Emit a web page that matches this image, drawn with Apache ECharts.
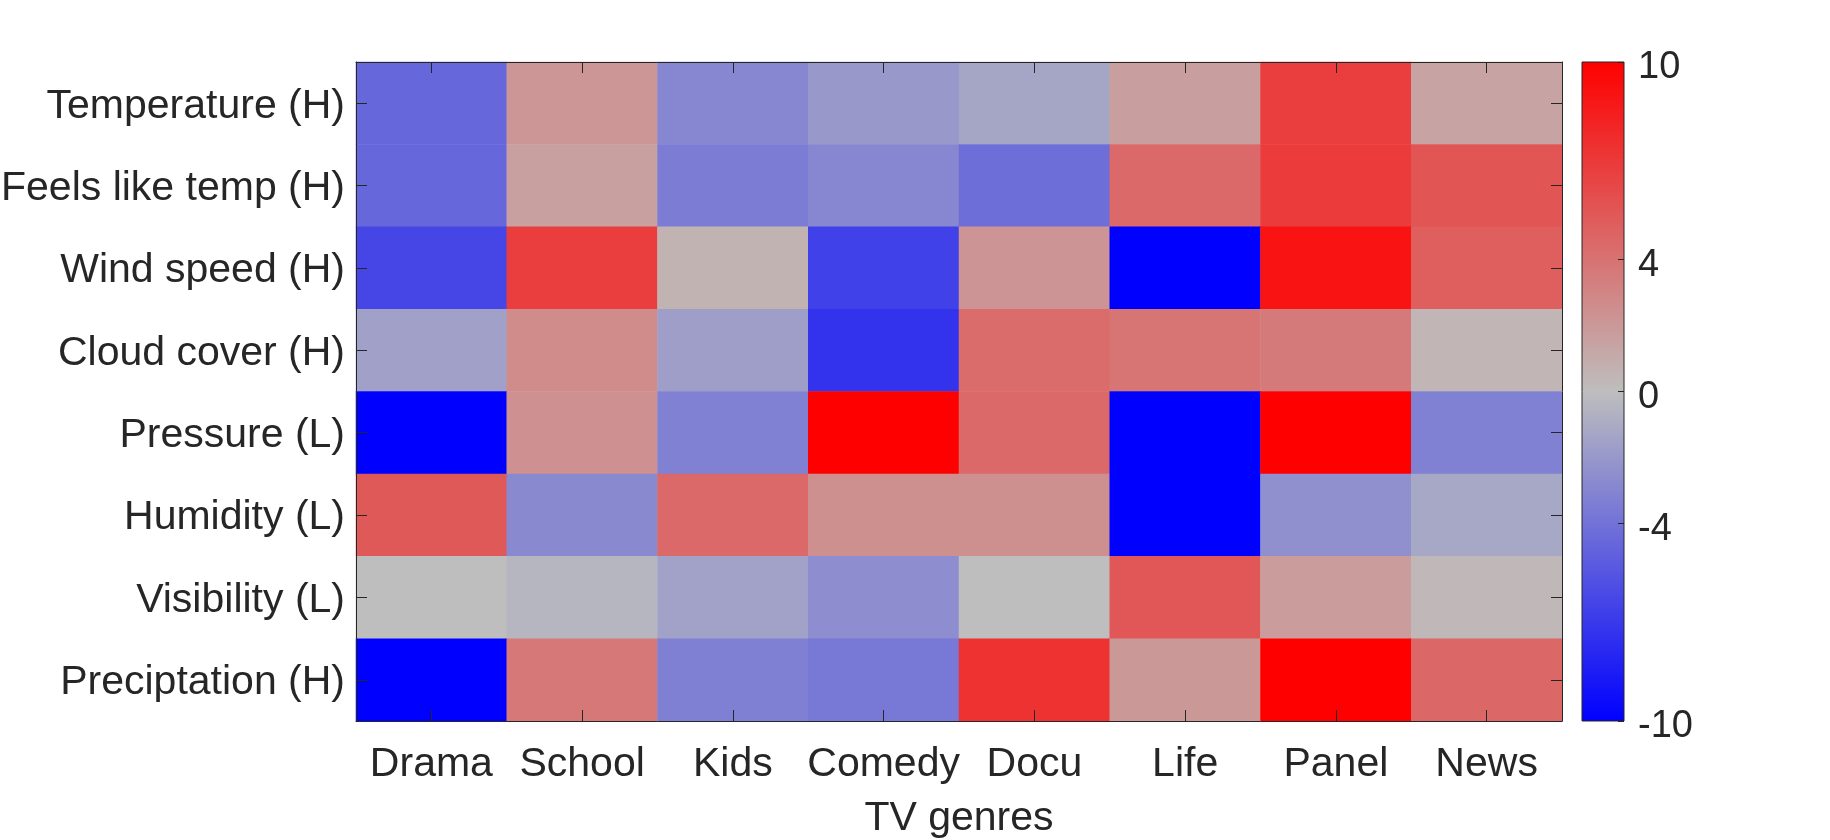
<!DOCTYPE html>
<html>
<head>
<meta charset="utf-8">
<title>TV genres heatmap</title>
<script src="https://cdn.jsdelivr.net/npm/echarts@6/dist/echarts.min.js"></script>
<style>
  html, body { margin: 0; padding: 0; background: #fff; }
  #chart1 { width: 1830px; height: 840px; }
</style>
</head>
<body>
<div id="chart1"></div>
<script>
// categories
var genres = ['Drama', 'School', 'Kids', 'Comedy', 'Docu', 'Life', 'Panel', 'News'];
var variables = ['Temperature (H)', 'Feels like temp (H)', 'Wind speed (H)', 'Cloud cover (H)',
                 'Pressure (L)', 'Humidity (L)', 'Visibility (L)', 'Preciptation (H)'];

// one row of values per variable, in genre order
var temperature = [-4.6, 2.1, -2.9, -2.0, -1.3, 1.7, 6.8, 1.4];
var feelsLike   = [-4.6, 1.6, -3.5, -2.9, -4.2, 4.5, 6.9, 5.5];
var windSpeed   = [-6.3, 6.8, 0.6, -6.6, 2.2, -10, 9.0, 5.0];
var cloudCover  = [-1.6, 2.7, -1.7, -7.3, 4.3, 3.9, 3.6, 0.5];
var pressure    = [-10, 2.4, -3.2, 10, 4.5, -10, 10, -3.2];
var humidity    = [5.3, -2.8, 4.5, 2.5, 2.5, -10, -2.4, -1.2];
var visibility  = [0, -0.4, -1.5, -2.6, 0, 5.4, 1.8, 0.3];
var precip      = [-10, 3.7, -3.3, -3.7, 7.4, 2.0, 10, 4.6];

var rows = [temperature, feelsLike, windSpeed, cloudCover, pressure, humidity, visibility, precip];

// colorbar ticks
var cbTicks = [-10, -4, 0, 4, 10];
var cbMin = -10, cbMax = 10;
var cmap = ['#0000ff', '#bebebe', '#ff0000'];

var heatData = [];
rows.forEach(function (row, yi) {
    row.forEach(function (v, xi) {
        heatData.push([xi, yi, v]);
    });
});

var txt = '#262626';
var font = 'Liberation Sans, Arial, Helvetica, sans-serif';

// inside ticks, mirrored box like the original figure
function catTicks() {
    return { show: true, inside: true, alignWithLabel: true, interval: 0, length: 11, lineStyle: { color: txt, width: 1 } };
}

var myChart1 = echarts.init(document.getElementById('chart1'));
myChart1.setOption({
    animation: false,
    textStyle: { fontFamily: font, color: txt },
    grid: [
        { left: 356, right: 268, top: 62, bottom: 119, outerBoundsMode: 'none', containLabel: false },
        { left: 1582, width: 42, top: 62, bottom: 119, outerBoundsMode: 'none', containLabel: false }
    ],
    xAxis: [
        {
            type: 'category', gridIndex: 0, data: genres, position: 'bottom', z: 5,
            name: 'TV genres', nameLocation: 'middle', nameGap: 77,
            nameTextStyle: { fontSize: 41, color: txt, fontFamily: font },
            axisLine: { lineStyle: { color: txt, width: 1 } },
            axisTick: catTicks(),
            axisLabel: { fontSize: 41, color: txt, margin: 23, interval: 0, fontFamily: font },
            splitLine: { show: false }
        },
        {
            type: 'category', gridIndex: 0, data: genres, position: 'top', z: 5,
            axisLine: { lineStyle: { color: txt, width: 1 } },
            axisTick: catTicks(),
            axisLabel: { show: false },
            splitLine: { show: false }
        },
        { type: 'value', gridIndex: 1, show: false, min: 0, max: 1 }
    ],
    yAxis: [
        {
            type: 'category', gridIndex: 0, data: variables, inverse: true, position: 'left', z: 5,
            axisLine: { lineStyle: { color: txt, width: 1 } },
            axisTick: catTicks(),
            axisLabel: {
                fontSize: 41, color: txt, margin: 11, interval: 0, fontFamily: font,
                verticalAlign: 'top', lineHeight: 6
            },
            splitLine: { show: false }
        },
        {
            type: 'category', gridIndex: 0, data: variables, inverse: true, position: 'right', z: 5,
            axisLine: { lineStyle: { color: txt, width: 1 } },
            axisTick: catTicks(),
            axisLabel: { show: false },
            splitLine: { show: false }
        },
        {
            type: 'value', gridIndex: 1, min: cbMin, max: cbMax, position: 'right', z: 5,
            axisLine: { show: false, onZero: false },
            axisTick: { show: true, inside: true, length: 6, customValues: cbTicks, lineStyle: { color: txt } },
            axisLabel: {
                fontSize: 38, color: txt, margin: 14, customValues: cbTicks, fontFamily: font,
                verticalAlign: 'top', lineHeight: 12
            },
            splitLine: { show: false }
        }
    ],
    visualMap: {
        show: false,
        type: 'continuous',
        min: cbMin,
        max: cbMax,
        seriesIndex: 0,
        inRange: { color: cmap }
    },
    graphic: [{
        type: 'rect',
        z: -1,
        shape: { x: 1582, y: 62, width: 42, height: 659 },
        style: {
            fill: new echarts.graphic.LinearGradient(0, 0, 0, 1, [
                { offset: 0, color: cmap[2] },
                { offset: 0.5, color: cmap[1] },
                { offset: 1, color: cmap[0] }
            ]),
            stroke: txt,
            lineWidth: 1
        }
    }],
    series: [{
        type: 'heatmap',
        xAxisIndex: 0,
        yAxisIndex: 0,
        data: heatData,
        z: 1,
        itemStyle: { borderWidth: 0 },
        emphasis: { disabled: true }
    }]
});

window.onresize = function () {
    myChart1.resize();
};
</script>
</body>
</html>
